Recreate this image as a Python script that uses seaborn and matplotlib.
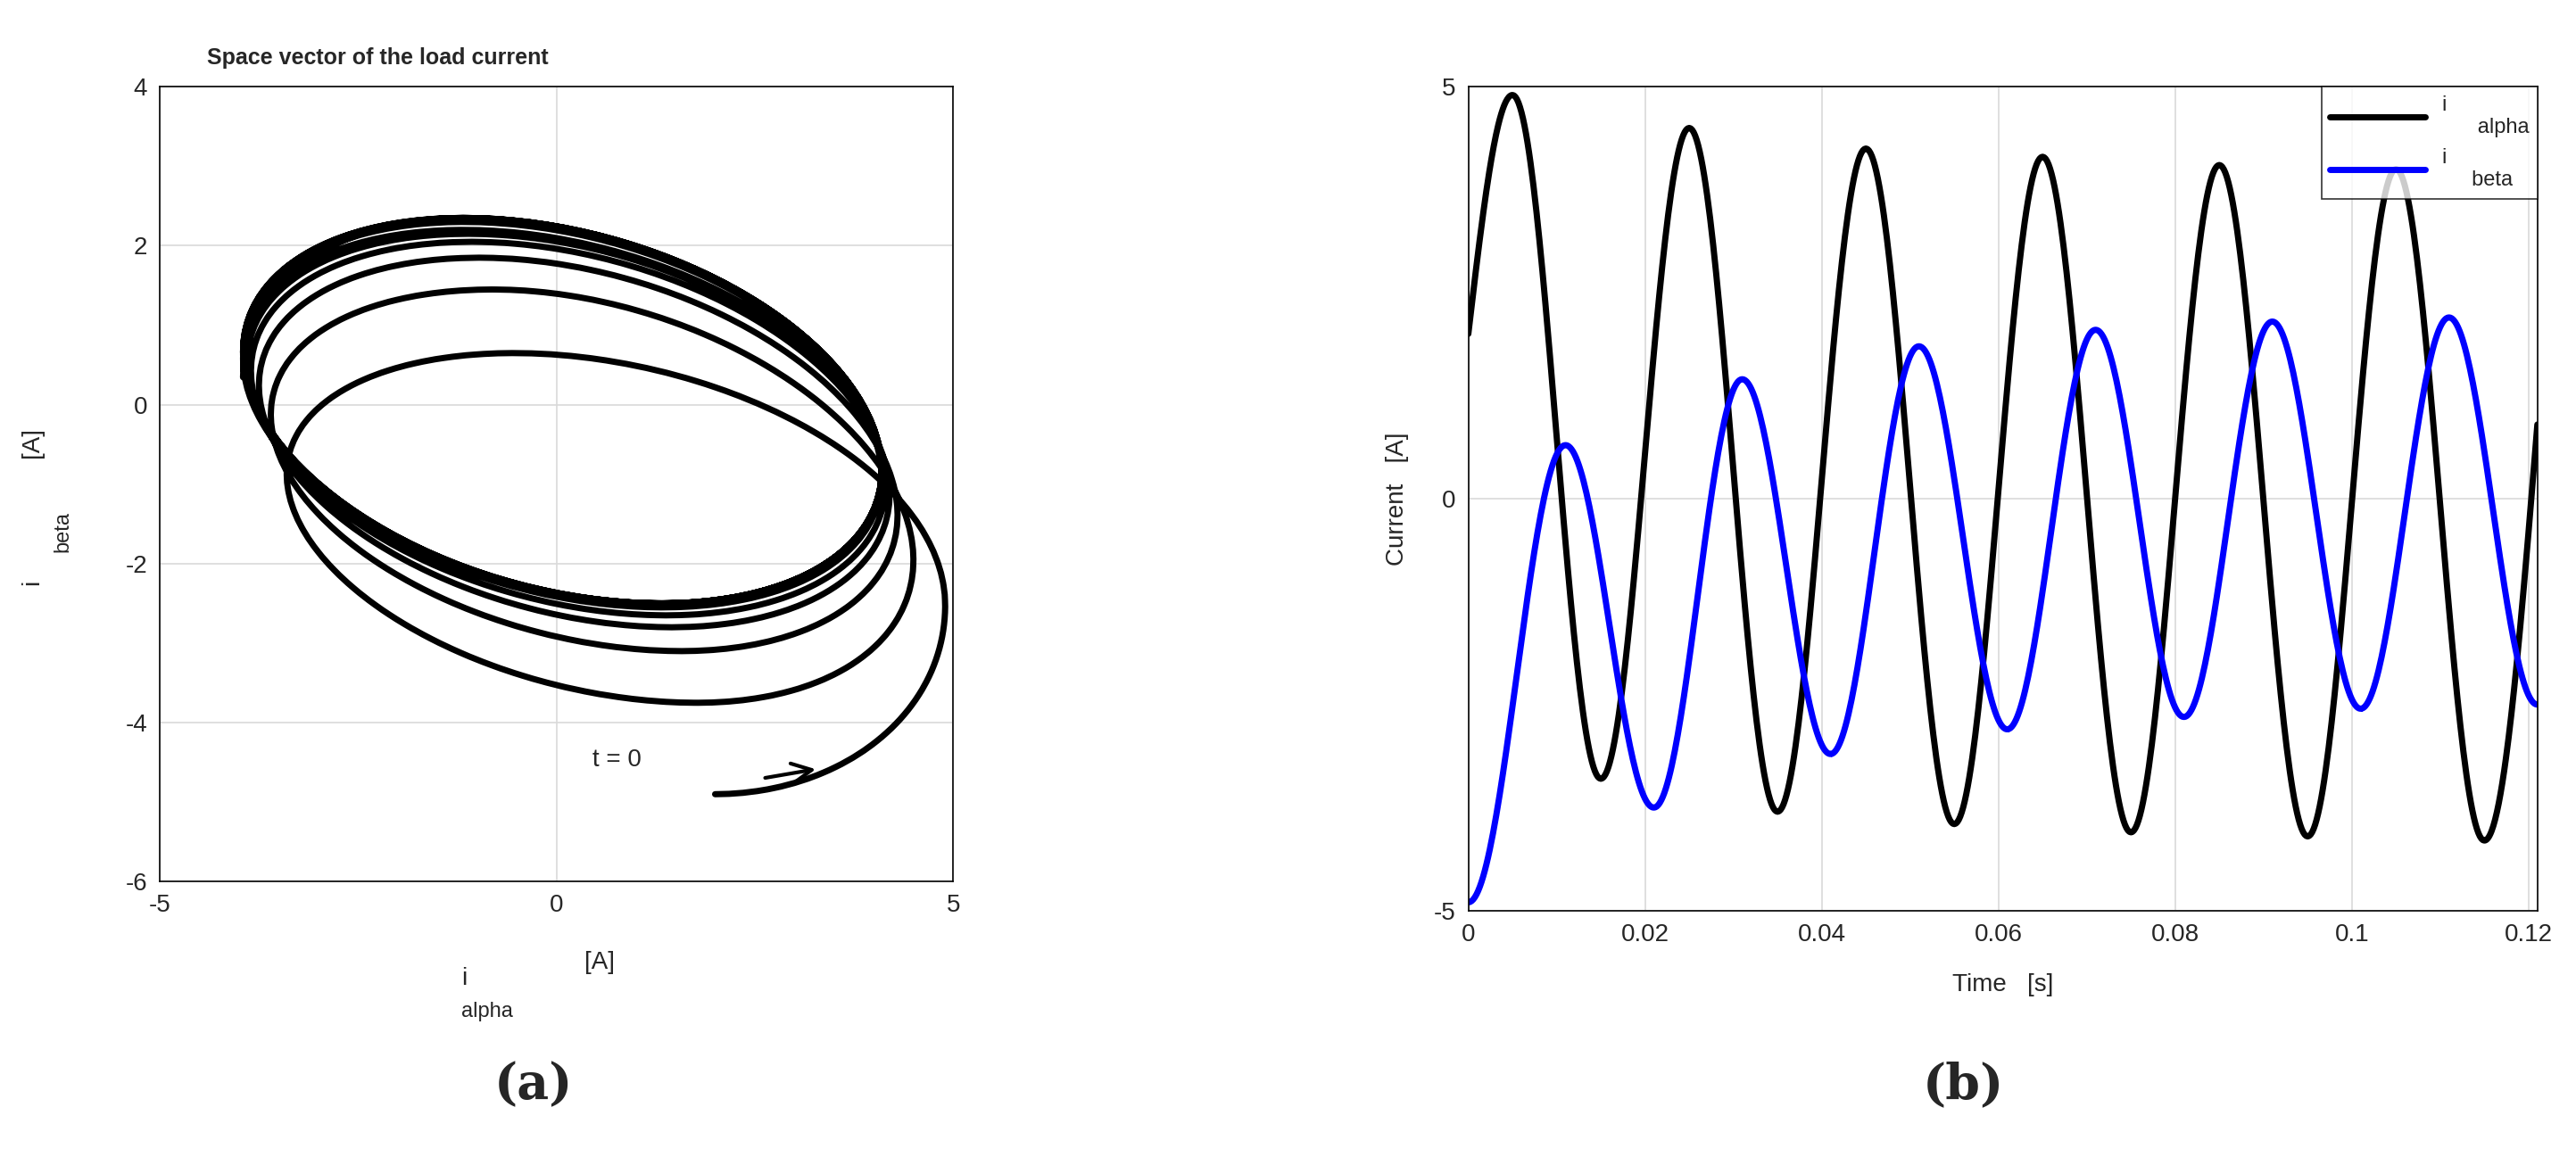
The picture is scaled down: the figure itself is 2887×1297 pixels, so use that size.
import numpy as np
import matplotlib
matplotlib.use("Agg")
import matplotlib.pyplot as plt
import seaborn as sns

# extrema (time [s], value [A]); first/last points are segment ends
alpha_t = [0.0, 0.005, 0.015, 0.025, 0.035, 0.045, 0.055, 0.065, 0.075, 0.085, 0.095, 0.105, 0.115, 0.121]
alpha_v = [2.0, 4.9, -3.4, 4.5, -3.8, 4.25, -3.95, 4.15, -4.05, 4.05, -4.1, 4.0, -4.15, 0.9]
beta_t = [0.0, 0.011, 0.021, 0.031, 0.041, 0.051, 0.061, 0.071, 0.081, 0.091, 0.101, 0.111, 0.121]
beta_v = [-4.9, 0.65, -3.75, 1.45, -3.1, 1.85, -2.8, 2.05, -2.65, 2.15, -2.55, 2.2, -2.5]

# longer run shown in the space-vector plot
sv_alpha_t = [0.0, 0.005, 0.015, 0.025, 0.035, 0.045, 0.055, 0.065, 0.075, 0.085, 0.095, 0.105, 0.115, 0.125, 0.135, 0.145, 0.155, 0.165, 0.175, 0.185, 0.195]
sv_alpha_v = [2.0, 4.9, -3.4, 4.5, -3.6, 4.3, -3.75, 4.2, -3.85, 4.15, -3.9, 4.1, -3.95, 4.1, -3.95, 4.1, -3.95, 4.1, -3.95, 4.1, -3.95]
sv_beta_t = [0.0, 0.011, 0.021, 0.031, 0.041, 0.051, 0.061, 0.071, 0.081, 0.091, 0.101, 0.111, 0.121, 0.131, 0.141, 0.151, 0.161, 0.171, 0.181, 0.191, 0.2]
sv_beta_v = [-4.9, 0.65, -3.75, 1.45, -3.1, 1.85, -2.8, 2.05, -2.65, 2.15, -2.55, 2.2, -2.5, 2.3, -2.5, 2.35, -2.5, 2.35, -2.5, 2.35, -2.5]

def curve(tk, vk, start_ext=True, end_ext=True, n=60):
    ts, vs = [], []
    m = len(tk) - 1
    for i in range(m):
        s = np.linspace(0, 1, n)
        t = tk[i] + (tk[i+1] - tk[i]) * s
        v0, v1 = vk[i], vk[i+1]
        if i == 0 and not start_ext:
            v = v0 + (v1 - v0) * np.sin(np.pi / 2 * s)
        elif i == m - 1 and not end_ext:
            v = v0 + (v1 - v0) * (1 - np.cos(np.pi / 2 * s))
        else:
            v = v0 + (v1 - v0) * (1 - np.cos(np.pi * s)) / 2
        ts.append(t); vs.append(v)
    return np.concatenate(ts), np.concatenate(vs)

ta, va = curve(alpha_t, alpha_v, start_ext=False, end_ext=False)
tb, vb = curve(beta_t, beta_v)
T = np.linspace(0, 0.195, 4000)
sa_t, sa_v = curve(sv_alpha_t, sv_alpha_v, start_ext=False)
sb_t, sb_v = curve(sv_beta_t, sv_beta_v)
X = np.interp(T, sa_t, sa_v)
Y = np.interp(T, sb_t, sb_v)

sns.set_theme(style="whitegrid")
plt.rcParams['font.family'] = ['Liberation Sans', 'DejaVu Sans']
plt.rcParams['axes.unicode_minus'] = False
fig = plt.figure(figsize=(28.87, 12.97), dpi=100)

def style(ax):
    for s in ax.spines.values():
        s.set_color('black'); s.set_linewidth(1.2)
    ax.grid(True, color='#d9d9d9', linewidth=1.2)
    ax.tick_params(labelsize=20, length=0, pad=10)

ax1 = fig.add_axes([0.062, 0.238, 0.308, 0.687])
sns.lineplot(x=X, y=Y, sort=False, ax=ax1, color='black', linewidth=5, estimator=None)
ax1.set_xlim(-5, 5); ax1.set_ylim(-6, 4)
ax1.set_xticks([-5, 0, 5]); ax1.set_yticks([-6, -4, -2, 0, 2, 4])
style(ax1)
ax1.set_title('Space vector of the load current', fontsize=18, fontweight='bold', loc='left', x=0.06, pad=18)
ax1.annotate('', xy=(3.3, -4.58), xytext=(2.6, -4.7),
             arrowprops=dict(arrowstyle='->', color='black', lw=3, mutation_scale=40))
ax1.text(0.45, -4.55, 't = 0', fontsize=20)
ax1.text(0.38, -0.13, 'i', transform=ax1.transAxes, fontsize=20)
ax1.text(0.38, -0.17, 'alpha', transform=ax1.transAxes, fontsize=17)
ax1.text(0.535, -0.11, '[A]', transform=ax1.transAxes, fontsize=20)
ax1.text(-0.175, 0.38, 'i', transform=ax1.transAxes, fontsize=20, rotation=90)
ax1.text(-0.135, 0.42, 'beta', transform=ax1.transAxes, fontsize=17, rotation=90)
ax1.text(-0.175, 0.54, '[A]', transform=ax1.transAxes, fontsize=20, rotation=90)

ax2 = fig.add_axes([0.570, 0.213, 0.415, 0.712])
sns.lineplot(x=ta, y=va, ax=ax2, color='black', linewidth=5, label='i\n      alpha', estimator=None)
sns.lineplot(x=tb, y=vb, ax=ax2, color='#0000ff', linewidth=5, label='i\n     beta', estimator=None)
ax2.set_xlim(0, 0.121); ax2.set_ylim(-5, 5)
ax2.set_xticks([0, 0.02, 0.04, 0.06, 0.08, 0.1, 0.12])
ax2.set_xticklabels(['0', '0.02', '0.04', '0.06', '0.08', '0.1', '0.12'])
ax2.set_yticks([-5, 0, 5])
style(ax2)
ax2.set_xlabel('Time   [s]', fontsize=20, labelpad=22)
ax2.set_ylabel('Current   [A]', fontsize=20, labelpad=20)
leg = ax2.legend(loc='upper right', fontsize=17, frameon=True, fancybox=False,
                 edgecolor='black', handlelength=4.5, borderaxespad=0)
leg.get_frame().set_linewidth(1.2)

fig.text(0.207, 0.05, '(a)', fontsize=40, fontweight='bold', family='DejaVu Serif', ha='center')
fig.text(0.762, 0.05, '(b)', fontsize=40, fontweight='bold', family='DejaVu Serif', ha='center')
fig.savefig('out.png', dpi=100)
